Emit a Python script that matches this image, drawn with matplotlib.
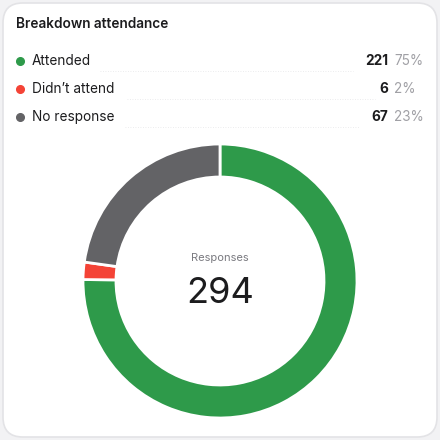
import matplotlib.pyplot as plt
from matplotlib.patches import FancyBboxPatch
from matplotlib.lines import Line2D

labels = ['Attended', "Didn\u2019t attend", 'No response']
counts = [221, 6, 67]
percents = ['75%', '2%', '23%']
colors = ['#2e9a4a', '#f44336', '#636366']
total = sum(counts)

plt.rcParams['font.family'] = ['Inter', 'DejaVu Sans']

W = H = 440
fig = plt.figure(figsize=(4.4, 4.4), dpi=100)
fig.patch.set_facecolor('#f2f2f4')


def fx(x):
    return x / W


def fy(y):
    return 1 - y / H


# card
card = FancyBboxPatch((fx(3), fy(437)), fx(434), 434 / H,
                      boxstyle='round,pad=0,rounding_size=0.045',
                      transform=fig.transFigure, facecolor='white',
                      edgecolor='#e3e3e6', linewidth=1.2, zorder=-5)
fig.patches.append(card)

fig.text(fx(16), fy(24), 'Breakdown attendance', fontsize=9.8, fontweight='semibold',
         color='#1c1c1e', va='center', ha='left')

rows_y = [61, 89, 117]
dots = [(100, 353), (127, 375), (125, 360)]
for i, lab in enumerate(labels):
    y = rows_y[i]
    fig.add_artist(Line2D([fx(20)], [fy(y)], marker='o', markersize=5.5, color=colors[i],
                          transform=fig.transFigure))
    fig.text(fx(32), fy(y), lab, fontsize=9.8, color='#1c1c1e', va='center', ha='left')
    fig.text(fx(388), fy(y), str(counts[i]), fontsize=9.8, fontweight='bold',
             color='#1c1c1e', va='center', ha='right')
    fig.text(fx(394), fy(y), percents[i], fontsize=9.8, color='#a0a0a5', va='center', ha='left')
    fig.add_artist(Line2D([fx(dots[i][0]), fx(dots[i][1])], [fy(y + 10), fy(y + 10)],
                          linestyle=(0, (1, 2)), linewidth=0.6, color='#e6e6e8',
                          transform=fig.transFigure))

# donut
cx, cy, r = 220, 281, 137
ax = fig.add_axes([fx(cx - r), fy(cy + r), 2 * r / W, 2 * r / H])
ax.set_facecolor('none')
ax.pie(counts, colors=colors, startangle=90, counterclock=False, radius=1,
       wedgeprops=dict(width=33 / r, edgecolor='white', linewidth=2))
ax.set_xlim(-1.0, 1.0)
ax.set_ylim(-1.0, 1.0)
ax.set_aspect('equal')
ax.axis('off')

ax.text(0, 0.17, 'Responses', fontsize=8, color='#7a7a80', ha='center', va='center')
ax.text(0, -0.09, str(total), fontsize=26, color='#1c1c1e', ha='center', va='center')

fig.savefig('out.png', dpi=100, facecolor=fig.get_facecolor())
